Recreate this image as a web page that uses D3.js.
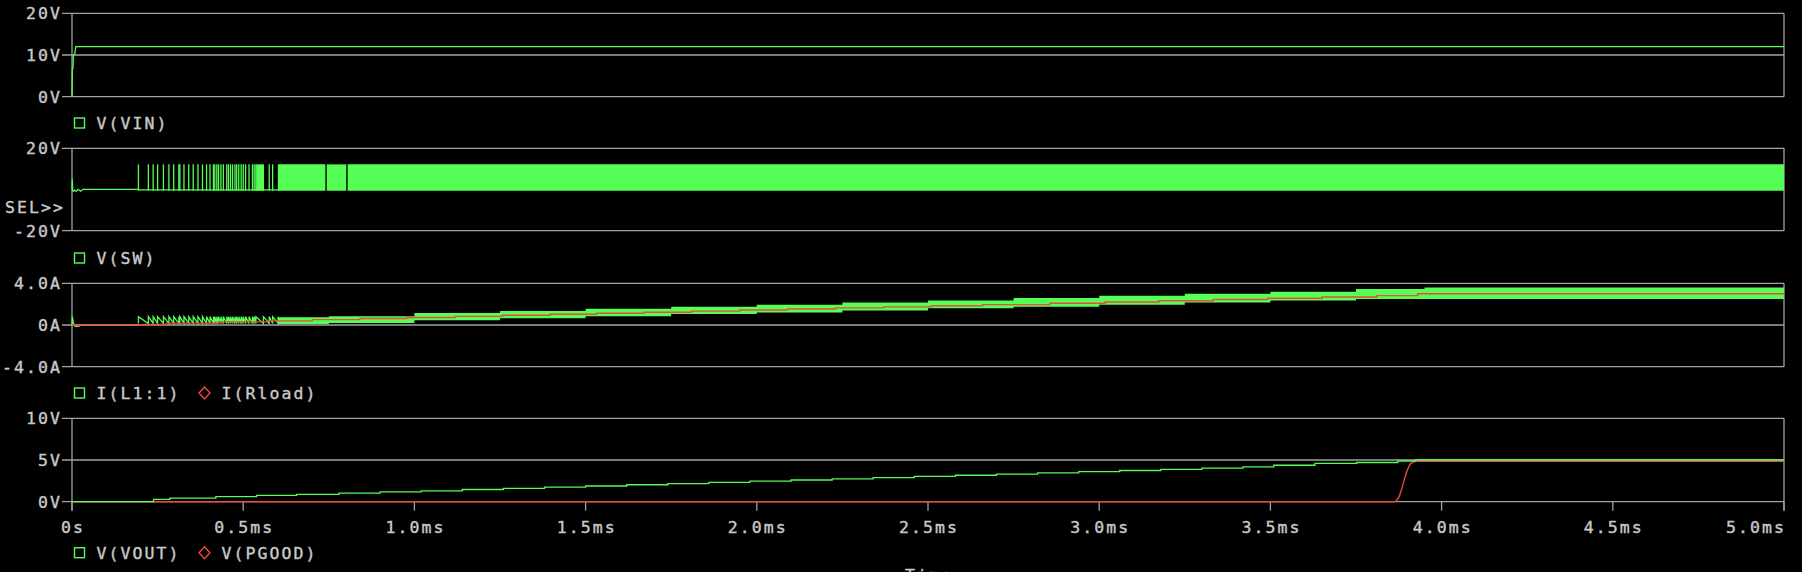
<!DOCTYPE html>
<html><head><meta charset="utf-8">
<script src="https://cdn.jsdelivr.net/npm/d3@7"></script>
<style>html,body{margin:0;padding:0;background:#000;overflow:hidden}svg{display:block}</style>
</head><body>
<svg id="chart" width="1802" height="572"></svg>
<script>
// ---------------- DATA ----------------
const timeTicks = [0, 0.5, 1.0, 1.5, 2.0, 2.5, 3.0, 3.5, 4.0, 4.5, 5.0];
const timeTickLabels = ["0s","0.5ms","1.0ms","1.5ms","2.0ms","2.5ms","3.0ms","3.5ms","4.0ms","4.5ms","5.0ms"];

const vinTicks = [0, 10, 20];
const vinTickLabels = ["0V","10V","20V"];
const swTicks = [-20, 20];
const swTickLabels = ["-20V","20V"];
const iTicks = [-4, 0, 4];
const iTickLabels = ["-4.0A","0A","4.0A"];
const voutTicks = [0, 5, 10];
const voutTickLabels = ["0V","5V","10V"];

// V(VIN)
const vinTime  = [0, 0.001, 0.003, 0.004, 0.008, 0.011, 5.0];
const vinValue = [0, 6.6, 6.8, 10.0, 10.2, 12.0, 12.0];

// V(SW) start-up and skip-mode pulses
const swInitTime  = [0, 0.001, 0.002, 0.004, 0.008, 0.012, 0.018, 0.025, 0.032, 0.194];
const swInitValue = [0, 5.0, -0.6, -0.9, -0.3, -0.9, 0.1, -0.8, 0.1, 0.1];
const swPulseTimes = [0.194,0.223,0.237,0.250,0.267,0.283,0.297,0.312,0.315,0.327,0.341,0.354,0.368,0.381,
  0.393,0.403,0.413,0.417,0.423,0.428,0.435,0.442,0.452,0.457,0.463,0.469,0.476,0.481,0.487,0.494,0.500,
  0.507,0.517,0.527,0.532,0.537,0.559,0.576,0.586,0.603];
const swPulseLevels = [12.2, -0.6, -0.2];       // high, low, idle
const swBandStart = [0.538, 0.603, 0.744, 0.805];
const swBandEnd   = [0.558, 0.740, 0.801, 5.0];

// I(L1:1)
const iInitTime  = [0, 0.001, 0.004, 0.008, 0.012, 0.02, 0.03, 0.194];
const iInitValue = [0, 0.8, 0.2, -0.1, -0.15, -0.1, 0, 0];
const iSawLevels = [0.8, 0.15];                 // peak, valley
const iBandTime   = [0.60, 0.75, 1.00, 1.25, 1.50, 1.75, 2.00, 2.25, 2.50, 2.75, 3.00, 3.25, 3.50, 3.75, 3.95, 5.0];
const iBandTop    = [0.75, 0.85, 1.15, 1.35, 1.55, 1.75, 1.95, 2.15, 2.35, 2.60, 2.80, 3.00, 3.20, 3.45, 3.60, 3.60];
const iBandBottom = [0.10, 0.20, 0.45, 0.65, 0.85, 1.05, 1.20, 1.40, 1.60, 1.75, 1.95, 2.15, 2.35, 2.50, 2.50, 2.50];

// V(VOUT) staircase
const voutTime  = [0, 0.203, 0.238, 0.286, 0.42, 0.539, 0.656, 0.78, 0.90, 1.02, 1.14, 1.26, 1.38, 1.50, 1.62, 1.74,
  1.86, 1.98, 2.10, 2.22, 2.34, 2.46, 2.58, 2.70, 2.82, 2.94, 3.06, 3.18, 3.30, 3.42, 3.51, 3.63, 3.752, 3.872, 3.922, 5.0];
const voutValue = [0, 0, 0.29, 0.44, 0.60, 0.77, 0.88, 1.03, 1.17, 1.31, 1.46, 1.60, 1.74, 1.88, 2.03, 2.17,
  2.31, 2.46, 2.60, 2.74, 2.89, 3.03, 3.17, 3.31, 3.46, 3.60, 3.74, 3.88, 4.03, 4.17, 4.37, 4.60, 4.70, 4.88, 5.0, 5.0];

// I(Rload) staircase
const iloadTime  = [0, 0.211, 0.277, 0.427, 0.569, 0.702, 0.841, 0.977, 1.119, 1.257, 1.396, 1.532, 1.67, 1.81, 1.95,
  2.09, 2.23, 2.37, 2.51, 2.66, 2.856, 3.017, 3.175, 3.333, 3.492, 3.651, 3.811, 3.93, 5.0];
const iloadValue = [0, 0.05, 0.18, 0.30, 0.40, 0.52, 0.62, 0.72, 0.83, 0.93, 1.03, 1.13, 1.23, 1.33, 1.44,
  1.54, 1.64, 1.74, 1.85, 1.95, 2.08, 2.20, 2.32, 2.44, 2.56, 2.68, 2.82, 3.00, 3.00];

// V(PGOOD)
const pgoodTime  = [0, 3.860, 3.868, 3.876, 3.884, 3.892, 3.900, 3.908, 3.916, 3.925, 5.0];
const pgoodValue = [0, 0, 0.1, 0.6, 1.6, 2.8, 3.8, 4.5, 4.75, 4.85, 4.85];

// ---------------- DRAWING ----------------
const GRID = "#a3a3a3", TEXT = "#c8c8c8", GREEN = "#55ff55", RED = "#f0483e";
const FONT = "'DejaVu Sans Mono', 'Liberation Mono', monospace";
const FS = 16.5;
const LS = 12 - FS * 0.602; // letter spacing -> 12px per character
const svg = d3.select("#chart");
svg.append("rect").attr("width",1802).attr("height",572).attr("fill","#000");

const x = d3.scaleLinear().domain([0, 5]).range([72, 1784]);
const panels = [
  {domain:[0,20],  range:[96.7,13.3],  ticks:vinTicks,  labels:vinTickLabels,  legendY:123,
   legend:[{name:"V(VIN)", color:GREEN, shape:"square"}]},
  {domain:[-20,20],range:[230.7,148.3],ticks:swTicks,   labels:swTickLabels,   legendY:258,
   legend:[{name:"V(SW)", color:GREEN, shape:"square"}]},
  {domain:[-4,4],  range:[366.7,283.3],ticks:iTicks,    labels:iTickLabels,    legendY:393,
   legend:[{name:"I(L1:1)", color:GREEN, shape:"square"},{name:"I(Rload)", color:RED, shape:"diamond"}]},
  {domain:[0,10],  range:[501.7,418.3],ticks:voutTicks, labels:voutTickLabels, legendY:552.7,
   legend:[{name:"V(VOUT)", color:GREEN, shape:"square"},{name:"V(PGOOD)", color:RED, shape:"diamond"}]}
];
panels.forEach(p => p.y = d3.scaleLinear().domain(p.domain).range(p.range));

const gGrid = svg.append("g");
const gTrace = svg.append("g");
const gText = svg.append("g").attr("fill", TEXT);

function addText(xp, yp, str, anchor) {
  const shift = anchor === "end" ? LS : anchor === "middle" ? LS / 2 : 0;
  return gText.append("text").attr("x", xp + shift).attr("y", yp).attr("dy", "0.36em")
    .attr("text-anchor", anchor || "start")
    .attr("stroke", TEXT).attr("stroke-width", 0.4)
    .style("font-family", FONT).style("font-size", FS + "px").style("letter-spacing", LS + "px")
    .text(str);
}

panels.forEach((p, pi) => {
  const isLast = pi === panels.length - 1;
  const yTop = p.y(p.domain[1]), yBot = p.y(p.domain[0]);
  p.ticks.forEach(t => {
    gGrid.append("line").attr("x1", 62).attr("x2", x.range()[1])
      .attr("y1", p.y(t)).attr("y2", p.y(t))
      .attr("stroke", GRID).attr("stroke-width", 1.3);
  });
  [x.range()[0], x.range()[1]].forEach(xv => {
    gGrid.append("line").attr("x1", xv).attr("x2", xv).attr("y1", yTop).attr("y2", isLast ? yBot + 9 : yBot)
      .attr("stroke", GRID).attr("stroke-width", 1.3);
  });
  p.ticks.forEach((t, i) => addText(60, p.y(t), p.labels[i], "end"));
  let lx = 74;
  p.legend.forEach(item => {
    const cy = p.legendY;
    if (item.shape === "square") {
      gText.append("rect").attr("x", lx + 0.5).attr("y", cy - 5).attr("width", 10).attr("height", 10)
        .attr("fill", "none").attr("stroke", item.color).attr("stroke-width", 1.4);
    } else {
      gText.append("path").attr("d", `M${lx+5.5},${cy-6} L${lx+11},${cy} L${lx+5.5},${cy+6} L${lx},${cy} Z`)
        .attr("fill", "none").attr("stroke", item.color).attr("stroke-width", 1.4);
    }
    addText(lx + 22.5, cy, item.name, "start");
    lx += 22.5 + item.name.length * 12 + 18.5;
  });
});

// SEL>> marker on the selected plot
addText(63, 207, "SEL>>", "end");

// x axis ticks & labels on bottom panel
const pb = panels[3];
timeTicks.forEach((t, i) => {
  gGrid.append("line").attr("x1", x(t)).attr("x2", x(t)).attr("y1", pb.y(0)).attr("y2", pb.y(0) + 9)
    .attr("stroke", GRID).attr("stroke-width", 1.3);
  const last = i === timeTicks.length - 1;
  addText(x(t), 527, timeTickLabels[i], last ? "end" : "middle");
});
addText((x.range()[0] + x.range()[1]) / 2, 575, "Time", "middle");

// ---------- traces ----------
const lineOf = (p, curve) => d3.line().x(d => x(d[0])).y(d => p.y(d[1])).curve(curve || d3.curveLinear);

// V(VIN)
const pv = panels[0];
gTrace.append("path").datum(d3.zip(vinTime, vinValue)).attr("d", lineOf(pv))
  .attr("fill", "none").attr("stroke", GREEN).attr("stroke-width", 1.3);

// V(SW)
const ps = panels[1];
const [swHigh, swLow, swIdle] = swPulseLevels;
gTrace.append("path").datum(d3.zip(swInitTime, swInitValue)).attr("d", lineOf(ps))
  .attr("fill", "none").attr("stroke", GREEN).attr("stroke-width", 1.3);
gTrace.append("path").datum([[swPulseTimes[0], swIdle], [swPulseTimes[swPulseTimes.length-1], swIdle]])
  .attr("d", lineOf(ps)).attr("fill", "none").attr("stroke", GREEN).attr("stroke-width", 1.3);
gTrace.selectAll(".swp").data(swPulseTimes).enter().append("line")
  .attr("x1", d => x(d)).attr("x2", d => x(d)).attr("y1", ps.y(swLow)).attr("y2", ps.y(swHigh))
  .attr("stroke", GREEN).attr("stroke-width", 1.3);
const swArea = d3.area().x(d => x(d)).y0(ps.y(swLow)).y1(ps.y(swHigh));
swBandStart.forEach((s, i) => {
  gTrace.append("path").datum([s, swBandEnd[i]]).attr("d", swArea).attr("fill", GREEN);
});

// I(L1:1)
const pI = panels[2];
gTrace.append("path").datum(d3.zip(iInitTime, iInitValue)).attr("d", lineOf(pI))
  .attr("fill", "none").attr("stroke", GREEN).attr("stroke-width", 1.3);
const saw = [];
swPulseTimes.forEach((t, i) => {
  const next = i < swPulseTimes.length - 1 ? swPulseTimes[i + 1] : t;
  saw.push([t, iSawLevels[1]], [t, iSawLevels[0]], [next, iSawLevels[1]]);
});
gTrace.append("path").datum(saw).attr("d", lineOf(pI))
  .attr("fill", "none").attr("stroke", GREEN).attr("stroke-width", 1.3);
const iArea = d3.area().x(d => x(d[0])).y0(d => pI.y(d[2])).y1(d => pI.y(d[1])).curve(d3.curveStepAfter);
gTrace.append("path").datum(d3.zip(iBandTime, iBandTop, iBandBottom)).attr("d", iArea).attr("fill", GREEN);
gTrace.append("path").datum(d3.zip(iloadTime, iloadValue)).attr("d", lineOf(pI, d3.curveStepAfter))
  .attr("fill", "none").attr("stroke", RED).attr("stroke-width", 1.4);

// V(VOUT) and V(PGOOD)
const po = panels[3];
gTrace.append("path").datum(d3.zip(pgoodTime, pgoodValue)).attr("d", lineOf(po))
  .attr("fill", "none").attr("stroke", RED).attr("stroke-width", 1.4);
gTrace.append("path").datum(d3.zip(voutTime, voutValue)).attr("d", lineOf(po, d3.curveStepAfter))
  .attr("fill", "none").attr("stroke", GREEN).attr("stroke-width", 1.3);
</script>
</body></html>
